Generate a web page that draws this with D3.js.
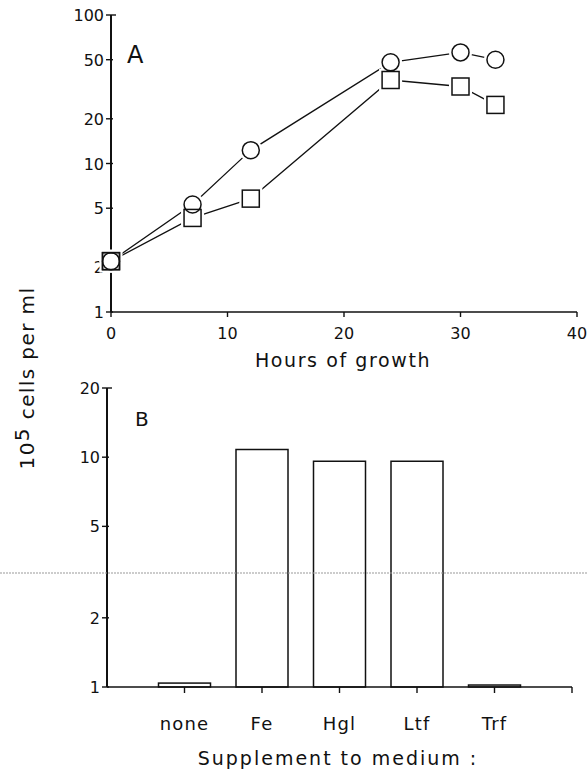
<!DOCTYPE html>
<html lang="en">
<head>
<meta charset="UTF-8">
<title>Growth and supplements</title>
<script src="https://d3js.org/d3.v7.min.js"></script>
<style>
    body { margin: 0; background: #fff; }
    svg { display: block; }
    text { font-family: "DejaVu Sans", sans-serif; fill: #111; }
</style>
</head>
<body>
<svg width="587" height="772"></svg>
<script>
    // panel A: growth curves
    const hours = [0, 7, 12, 24, 30, 33];
    const circleSeries = [2.2, 5.3, 12.3, 48, 56, 50];
    const squareSeries = [2.2, 4.3, 5.8, 36.5, 33, 24.8];
    const xTicksA = [0, 10, 20, 30, 40];
    const yTicksA = [1, 2, 5, 10, 20, 50, 100];

    // panel B: supplements
    const supplements = ["none", "Fe", "Hgl", "Ltf", "Trf"];
    const cellCounts = [1.04, 10.8, 9.6, 9.6, 1.02];
    const yTicksB = [1, 2, 5, 10, 20];

    const svg = d3.select("svg");
    const ink = "#111";

    // ---------- panel A ----------
    const xA = d3.scaleLinear().domain([0, 40]).range([111, 577]);
    const yA = d3.scaleLog().domain([1, 100]).range([312, 15]);

    const gA = svg.append("g");

    // axes
    gA.append("line").attr("x1", xA(0)).attr("x2", xA(0))
        .attr("y1", yA(1)).attr("y2", yA(100))
        .attr("stroke", ink).attr("stroke-width", 2);
    gA.append("line").attr("x1", xA(0)).attr("x2", xA(40))
        .attr("y1", yA(1)).attr("y2", yA(1))
        .attr("stroke", ink).attr("stroke-width", 1.6);

    yTicksA.forEach(v => {
        gA.append("line").attr("x1", xA(0) - 5).attr("x2", xA(0) + (v === 100 ? 5 : 2))
            .attr("y1", yA(v)).attr("y2", yA(v))
            .attr("stroke", ink).attr("stroke-width", 1.4);
        gA.append("text").attr("x", xA(0) - 7).attr("y", yA(v) + 6)
            .attr("text-anchor", "end").attr("font-size", 16).text(v);
    });
    xTicksA.forEach(v => {
        gA.append("line").attr("x1", xA(v)).attr("x2", xA(v))
            .attr("y1", yA(1)).attr("y2", yA(1) + 5)
            .attr("stroke", ink).attr("stroke-width", 1.4);
        gA.append("text").attr("x", xA(v)).attr("y", 339)
            .attr("text-anchor", "middle").attr("font-size", 16).text(v);
    });
    gA.append("text").attr("x", 343).attr("y", 367)
        .attr("text-anchor", "middle").attr("font-size", 19)
        .attr("letter-spacing", 1.6).text("Hours of growth");
    gA.append("text").attr("x", 127).attr("y", 63)
        .attr("font-size", 24).text("A");

    const lineA = d3.line().x(d => xA(d[0])).y(d => yA(d[1]));
    const circlePts = hours.map((h, i) => [h, circleSeries[i]]);
    const squarePts = hours.map((h, i) => [h, squareSeries[i]]);

    [circlePts, squarePts].forEach(pts => {
        gA.append("path").attr("d", lineA(pts))
            .attr("fill", "none").attr("stroke", ink).attr("stroke-width", 1.3);
    });

    const half = 8.5;
    // white halos so the lines stop short of the markers
    squarePts.forEach(d => {
        gA.append("rect").attr("x", xA(d[0]) - half - 3).attr("y", yA(d[1]) - half - 3)
            .attr("width", 2 * half + 6).attr("height", 2 * half + 6).attr("fill", "#fff");
    });
    circlePts.forEach(d => {
        gA.append("circle").attr("cx", xA(d[0])).attr("cy", yA(d[1]))
            .attr("r", half + 3).attr("fill", "#fff");
    });
    squarePts.forEach(d => {
        gA.append("rect").attr("x", xA(d[0]) - half).attr("y", yA(d[1]) - half)
            .attr("width", 2 * half).attr("height", 2 * half)
            .attr("fill", "#fff").attr("stroke", ink).attr("stroke-width", 1.5);
    });
    circlePts.forEach(d => {
        gA.append("circle").attr("cx", xA(d[0])).attr("cy", yA(d[1]))
            .attr("r", half).attr("fill", "none").attr("stroke", ink).attr("stroke-width", 1.5);
    });
    // the first square is covered by the circle halo, outline it again
    gA.append("rect").attr("x", xA(squarePts[0][0]) - half).attr("y", yA(squarePts[0][1]) - half)
        .attr("width", 2 * half).attr("height", 2 * half)
        .attr("fill", "none").attr("stroke", ink).attr("stroke-width", 1.5);

    // ---------- panel B ----------
    const xB = d3.scaleLinear().domain([0, 6]).range([107, 572]);
    const yB = d3.scaleLog().domain([1, 20]).range([687, 388]);
    const gB = svg.append("g");

    supplements.forEach((s, i) => {
        const cx = xB(i + 1);
        gB.append("rect").attr("x", cx - 26).attr("y", yB(cellCounts[i]))
            .attr("width", 52).attr("height", yB(1) - yB(cellCounts[i]))
            .attr("fill", "#fff").attr("stroke", ink).attr("stroke-width", 1.5);
        gB.append("text").attr("x", cx).attr("y", 730)
            .attr("text-anchor", "middle").attr("font-size", 18)
            .attr("letter-spacing", 1.2).text(s);
    });

    gB.append("line").attr("x1", xB(0)).attr("x2", xB(0))
        .attr("y1", yB(1)).attr("y2", yB(20))
        .attr("stroke", ink).attr("stroke-width", 2);
    gB.append("line").attr("x1", xB(0)).attr("x2", xB(6))
        .attr("y1", yB(1)).attr("y2", yB(1))
        .attr("stroke", ink).attr("stroke-width", 1.6);

    yTicksB.forEach(v => {
        gB.append("line").attr("x1", xB(0) - 5).attr("x2", xB(0) + (v === 20 ? 5 : 2))
            .attr("y1", yB(v)).attr("y2", yB(v))
            .attr("stroke", ink).attr("stroke-width", 1.4);
        gB.append("text").attr("x", xB(0) - 7).attr("y", yB(v) + 6)
            .attr("text-anchor", "end").attr("font-size", 16).text(v);
    });
    d3.range(1, 7).forEach(v => {
        gB.append("line").attr("x1", xB(v)).attr("x2", xB(v))
            .attr("y1", yB(1)).attr("y2", yB(1) + 6)
            .attr("stroke", ink).attr("stroke-width", 1.4);
    });

    gB.append("text").attr("x", 338).attr("y", 765)
        .attr("text-anchor", "middle").attr("font-size", 19)
        .attr("letter-spacing", 2).text("Supplement to medium :");
    gB.append("text").attr("x", 135).attr("y", 426)
        .attr("font-size", 20).text("B");

    // shared y label
    const yLab = svg.append("text")
        .attr("transform", "translate(34,378) rotate(-90)")
        .attr("text-anchor", "middle").attr("font-size", 20)
        .attr("letter-spacing", 1.4);
    yLab.append("tspan").text("10");
    yLab.append("tspan").attr("dy", -5).text("5");
    yLab.append("tspan").attr("dy", 5).text(" cells per ml");

    // scanner line across the page
    svg.append("line").attr("x1", 0).attr("x2", 587)
        .attr("y1", 573).attr("y2", 573)
        .attr("stroke", "#999").attr("stroke-width", 1)
        .attr("stroke-dasharray", "2,1");
</script>
</body>
</html>
